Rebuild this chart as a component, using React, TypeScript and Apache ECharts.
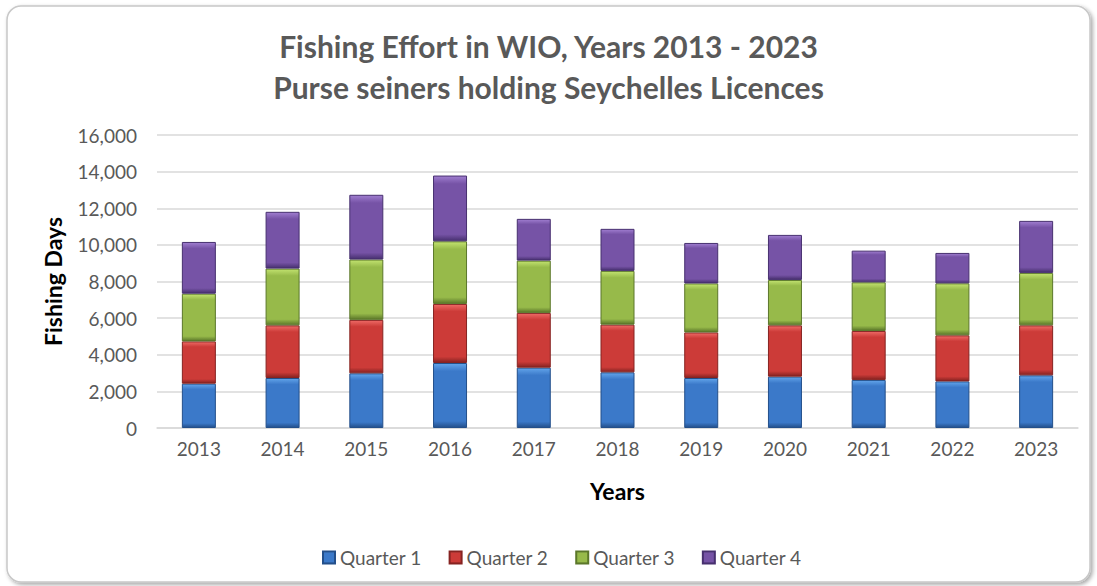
import React, { useEffect, useRef } from "react";
import * as echarts from "echarts";

const years = ["2013", "2014", "2015", "2016", "2017", "2018", "2019", "2020", "2021", "2022", "2023"];
const quarter1 = [2420, 2730, 2985, 3550, 3295, 3040, 2730, 2805, 2625, 2545, 2875];
const quarter2 = [2310, 2875, 2920, 3225, 2990, 2605, 2490, 2800, 2675, 2515, 2730];
const quarter3 = [2605, 3100, 3295, 3420, 2855, 2935, 2675, 2480, 2655, 2840, 2865];
const quarter4 = [2825, 3100, 3535, 3590, 2280, 2295, 2210, 2460, 1730, 1660, 2840];
const seriesNames = ["Quarter 1", "Quarter 2", "Quarter 3", "Quarter 4"];
const titleLines = ["Fishing Effort in WIO, Years 2013 - 2023", "Purse seiners holding Seychelles Licences"];

const palette = [
  { light: "#62a4ea", base: "#3b79c9", dark: "#234f8a" },
  { light: "#ee6a66", base: "#cc3b38", dark: "#862321" },
  { light: "#c2e270", base: "#97ba4a", dark: "#5b772a" },
  { light: "#a07ed0", base: "#7653a6", dark: "#47306f" },
];

const FONT = "Lato, 'Open Sans', sans-serif";

export default function App() {
  const ref = useRef<HTMLDivElement>(null);
  useEffect(() => {
    if (!ref.current) return;
    const chart = echarts.init(ref.current, undefined, { renderer: "svg" });
    const data = [quarter1, quarter2, quarter3, quarter4];
    chart.setOption({
      animation: false,
      backgroundColor: "#ffffff",
      textStyle: { fontFamily: FONT },
      title: {
        text: titleLines.join("\n"),
        left: "center",
        top: 20,
        textStyle: {
          fontFamily: FONT,
          fontSize: 30,
          fontWeight: "bold",
          color: "#595959",
          lineHeight: 41,
        },
      },
      graphic: [
        {
          type: "rect",
          z: -10,
          silent: true,
          shape: { x: 7, y: 6, width: 1083, height: 576, r: 14 },
          style: {
            fill: "#ffffff",
            stroke: "#c8c8c8",
            lineWidth: 1.5,
            shadowBlur: 4,
            shadowOffsetX: 2,
            shadowOffsetY: 2,
            shadowColor: "rgba(0,0,0,0.35)",
          },
        },
      ],
      legend: {
        data: seriesNames,
        left: 317,
        top: 543,
        icon: "rect",
        itemWidth: 12,
        itemHeight: 12,
        itemGap: 27,
        textStyle: { fontFamily: FONT, fontSize: 19, color: "#595959" },
      },
      grid: { left: 157, right: 19, top: 135, bottom: 158 },
      xAxis: {
        type: "category",
        data: years,
        name: "Years",
        nameLocation: "middle",
        nameGap: 51,
        nameTextStyle: { fontFamily: FONT, fontSize: 23, fontWeight: "bold", color: "#000" },
        axisLine: { lineStyle: { color: "#d9d9d9", width: 1.5 } },
        axisTick: { show: false },
        axisLabel: { fontFamily: FONT, fontSize: 19, color: "#595959", margin: 11 },
      },
      yAxis: {
        type: "value",
        min: 0,
        max: 16000,
        interval: 2000,
        name: "Fishing Days",
        nameLocation: "middle",
        nameGap: 93,
        nameTextStyle: { fontFamily: FONT, fontSize: 23, fontWeight: "bold", color: "#000" },
        axisLine: { show: false },
        axisTick: { show: false },
        splitLine: { lineStyle: { color: "#d9d9d9", width: 1.5 } },
        axisLabel: {
          fontFamily: FONT,
          fontSize: 19,
          color: "#595959",
          margin: 20,
          formatter: (v: number) => v.toLocaleString("en-US"),
        },
      },
      series: seriesNames.map((name, i) => ({
        name,
        type: "bar",
        stack: "total",
        barWidth: 34,
        data: data[i],
        itemStyle: {
          color: new echarts.graphic.LinearGradient(0, 0, 0, 1, [
            { offset: 0, color: palette[i].light },
            { offset: 0.12, color: palette[i].base },
            { offset: 0.9, color: palette[i].base },
            { offset: 1, color: palette[i].dark },
          ]),
          borderColor: palette[i].dark,
          borderWidth: 1,
        },
      })),
    });
    return () => chart.dispose();
  }, []);
  return (
    <div
      ref={ref}
      style={{ position: "fixed", left: 0, top: 0, width: 1097, height: 586 }}
    />
  );
}
